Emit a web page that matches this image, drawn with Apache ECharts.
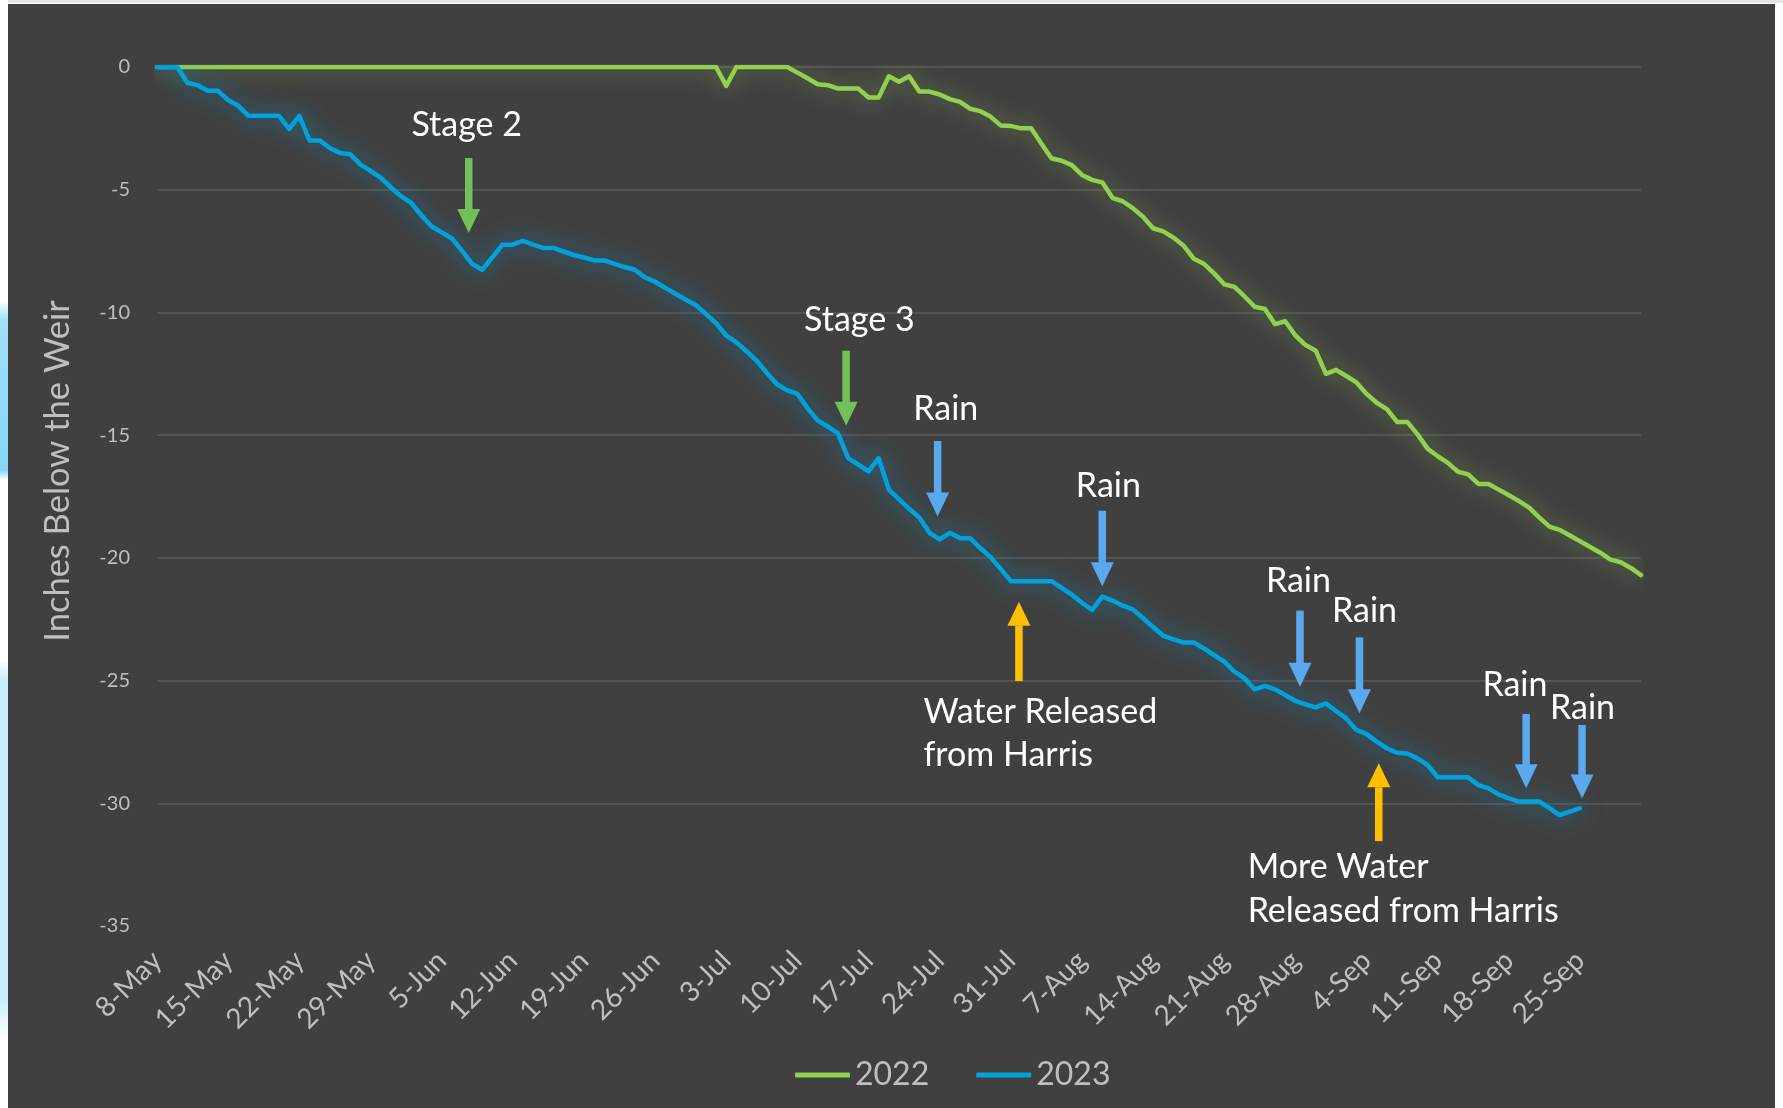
<!DOCTYPE html>
<html>
<head>
<meta charset="utf-8">
<script src="https://cdn.jsdelivr.net/npm/echarts@6/dist/echarts.min.js"></script>
<style>
  html, body { margin: 0; padding: 0; width: 1783px; height: 1108px; overflow: hidden; background: #ffffff; }
  #topline { position: absolute; left: 0; top: 0; width: 1783px; height: 3px; background: #e4e4e4; }
  #leftdeco { position: absolute; left: 0; top: 0; width: 8px; height: 1108px;
    background: linear-gradient(to bottom, #ffffff 0px, #ffffff 300px, #9fe0fa 320px, #86d6f8 470px, #ffffff 480px, #ffffff 660px, #c9effc 680px, #c9effc 1000px, #ffffff 1040px); }
  #chart { position: absolute; left: 8px; top: 4px; width: 1767px; height: 1104px; }
</style>
</head>
<body>
<div id="topline"></div>
<div id="leftdeco"></div>
<div id="chart"></div>
<script>
// ---- categories (daily, 8-May .. 1-Oct) ----
const dates = [
 '8-May','9-May','10-May','11-May','12-May','13-May','14-May','15-May','16-May','17-May','18-May','19-May','20-May','21-May','22-May','23-May','24-May','25-May','26-May','27-May','28-May','29-May','30-May','31-May',
 '1-Jun','2-Jun','3-Jun','4-Jun','5-Jun','6-Jun','7-Jun','8-Jun','9-Jun','10-Jun','11-Jun','12-Jun','13-Jun','14-Jun','15-Jun','16-Jun','17-Jun','18-Jun','19-Jun','20-Jun','21-Jun','22-Jun','23-Jun','24-Jun','25-Jun','26-Jun','27-Jun','28-Jun','29-Jun','30-Jun',
 '1-Jul','2-Jul','3-Jul','4-Jul','5-Jul','6-Jul','7-Jul','8-Jul','9-Jul','10-Jul','11-Jul','12-Jul','13-Jul','14-Jul','15-Jul','16-Jul','17-Jul','18-Jul','19-Jul','20-Jul','21-Jul','22-Jul','23-Jul','24-Jul','25-Jul','26-Jul','27-Jul','28-Jul','29-Jul','30-Jul','31-Jul',
 '1-Aug','2-Aug','3-Aug','4-Aug','5-Aug','6-Aug','7-Aug','8-Aug','9-Aug','10-Aug','11-Aug','12-Aug','13-Aug','14-Aug','15-Aug','16-Aug','17-Aug','18-Aug','19-Aug','20-Aug','21-Aug','22-Aug','23-Aug','24-Aug','25-Aug','26-Aug','27-Aug','28-Aug','29-Aug','30-Aug','31-Aug',
 '1-Sep','2-Sep','3-Sep','4-Sep','5-Sep','6-Sep','7-Sep','8-Sep','9-Sep','10-Sep','11-Sep','12-Sep','13-Sep','14-Sep','15-Sep','16-Sep','17-Sep','18-Sep','19-Sep','20-Sep','21-Sep','22-Sep','23-Sep','24-Sep','25-Sep','26-Sep','27-Sep','28-Sep','29-Sep','30-Sep',
 '1-Oct'
];

// ---- series values (inches below the weir) ----
const level2022 = [
 0,0,0,0,0,0,0,0,0,0, 0,0,0,0,0,0,0,0,0,0,
 0,0,0,0,0,0,0,0,0,0, 0,0,0,0,0,0,0,0,0,0,
 0,0,0,0,0,0,0,0,0,0, 0,0,0,0,0,0,
 -0.77, 0,0,0,0,0,0,
 -0.23,-0.46,-0.7,-0.74,-0.88,-0.88,-0.88,-1.24,-1.24,-0.38,
 -0.6,-0.38,-1.0,-1.0,-1.12,-1.31,-1.42,-1.7,-1.8,-2.02,
 -2.38,-2.4,-2.5,-2.5,-3.12,-3.72,-3.82,-4.0,-4.4,-4.6,
 -4.7,-5.33,-5.47,-5.75,-6.1,-6.57,-6.7,-6.95,-7.28,-7.81,
 -8.02,-8.41,-8.85,-8.96,-9.35,-9.77,-9.86,-10.48,-10.36,-10.94,
 -11.33,-11.56,-12.5,-12.34,-12.59,-12.85,-13.32,-13.68,-13.94,-14.46,
 -14.46,-14.96,-15.55,-15.86,-16.13,-16.49,-16.6,-16.99,-16.99,-17.22,
 -17.45,-17.69,-17.95,-18.36,-18.73,-18.86,-19.09,-19.32,-19.56,-19.79,
 -20.07,-20.18,-20.41,-20.7
];
const level2023 = [
 0,0,0,-0.65,-0.74,-0.97,-0.97,-1.35,-1.58,-1.99,
 -1.99,-1.99,-1.99,-2.52,-1.99,-2.99,-2.99,-3.3,-3.5,-3.55,
 -3.97,-4.23,-4.51,-4.9,-5.26,-5.53,-6.04,-6.49,-6.74,-6.98,
 -7.48,-8.02,-8.26,-7.75,-7.24,-7.24,-7.08,-7.24,-7.37,-7.37,
 -7.52,-7.66,-7.76,-7.88,-7.88,-8.02,-8.15,-8.26,-8.57,-8.75,
 -9.0,-9.24,-9.47,-9.7,-10.06,-10.44,-10.94,-11.22,-11.58,-11.97,
 -12.47,-12.93,-13.17,-13.32,-13.9,-14.41,-14.65,-14.93,-15.94,-16.2,
 -16.48,-15.94,-17.22,-17.61,-18.0,-18.36,-18.98,-19.25,-18.98,-19.2,
 -19.2,-19.6,-19.97,-20.45,-20.95,-20.95,-20.95,-20.95,-20.95,-21.22,
 -21.5,-21.83,-22.12,-21.58,-21.74,-21.95,-22.1,-22.45,-22.82,-23.17,
 -23.32,-23.45,-23.45,-23.69,-23.96,-24.23,-24.64,-24.91,-25.36,-25.22,
 -25.36,-25.59,-25.83,-25.97,-26.09,-25.93,-26.24,-26.54,-27.01,-27.18,
 -27.49,-27.76,-27.94,-27.97,-28.17,-28.44,-28.94,-28.94,-28.94,-28.94,
 -29.26,-29.39,-29.64,-29.8,-29.93,-29.93,-29.93,-30.2,-30.48,-30.34,
 -30.2
];
const seriesNames = ['2022', '2023'];
const yMin = -35, yMax = 0, yStep = 5;
const yTitle = 'Inches Below the Weir';

// ---- annotations (anchored in data space: day index, inches) ----
const arrowNotes = [
  { kind: 'stage', day: 30.67, from: -3.71, to: -6.76 },
  { kind: 'stage', day: 67.8,  from: -11.56, to: -14.62 },
  { kind: 'rain',  day: 76.8,  from: -15.24, to: -18.31 },
  { kind: 'rain',  day: 93.0,  from: -18.08, to: -21.16 },
  { kind: 'rain',  day: 112.45, from: -22.15, to: -25.25 },
  { kind: 'rain',  day: 118.3, from: -23.24, to: -26.33 },
  { kind: 'rain',  day: 134.7, from: -26.36, to: -29.39 },
  { kind: 'rain',  day: 140.2, from: -26.81, to: -29.8 },
  { kind: 'release', day: 84.8, from: -24.98, to: -21.79 },
  { kind: 'release', day: 120.2, from: -31.5, to: -28.37 }
];
const textNotes = [
  { text: 'Stage 2', day: 30.47, at: -2.36, align: 'center' },
  { text: 'Stage 3', day: 69.1, at: -10.31, align: 'center' },
  { text: 'Rain', day: 77.6, at: -13.93, align: 'center' },
  { text: 'Rain', day: 93.6, at: -17.07, align: 'center' },
  { text: 'Rain', day: 112.3, at: -20.94, align: 'center' },
  { text: 'Rain', day: 118.8, at: -22.17, align: 'center' },
  { text: 'Rain', day: 133.6, at: -25.18, align: 'center' },
  { text: 'Rain', day: 140.25, at: -26.1, align: 'center' },
  { text: 'Water Released', day: 75.4, at: -26.28, align: 'left' },
  { text: 'from Harris', day: 75.4, at: -28.03, align: 'left' },
  { text: 'More Water', day: 107.3, at: -32.6, align: 'left' },
  { text: 'Released from Harris', day: 107.3, at: -34.39, align: 'left' }
];

const FONT = 'Lato, "Open Sans", sans-serif';
const arrowColors = { stage: '#72c058', rain: '#5aa9ee', release: '#ffc000' };

const chart = echarts.init(document.getElementById('chart'), null, { renderer: 'canvas' });

chart.setOption({
  animation: false,
  backgroundColor: '#404040',
  grid: { left: 149, right: 134, top: 63, bottom: 182, containLabel: false },
  legend: {
    data: seriesNames,
    left: 782, top: 1050,
    icon: 'roundRect',
    itemWidth: 55, itemHeight: 5, itemGap: 47,
    textStyle: { color: '#bfbfbf', fontSize: 32, fontFamily: FONT }
  },
  xAxis: {
    type: 'category',
    data: dates,
    boundaryGap: false,
    axisLine: { show: false },
    axisTick: { show: false },
    splitLine: { show: false },
    axisLabel: {
      interval: 6, rotate: 45, margin: 30,
      padding: [22, 0, 0, 0],
      color: '#bfbfbf', fontSize: 28, fontFamily: FONT
    }
  },
  yAxis: {
    type: 'value',
    min: yMin, max: yMax, interval: yStep,
    axisLine: { show: false },
    axisTick: { show: false },
    axisLabel: { color: '#bfbfbf', fontSize: 20, fontFamily: FONT, margin: 27 },
    splitLine: { show: true, showMinLine: false, lineStyle: { color: '#5a5a5a', width: 1.5 } }
  },
  series: [
    {
      name: seriesNames[0], type: 'line', data: level2022,
      showSymbol: false, symbol: 'none', smooth: false,
      itemStyle: { color: '#92d050' },
      lineStyle: { color: '#92d050', width: 4.5, cap: 'round', join: 'round',
        shadowBlur: 22, shadowColor: 'rgba(146,208,80,0.6)' },
      z: 2
    },
    {
      name: seriesNames[1], type: 'line', data: level2023,
      showSymbol: false, symbol: 'none', smooth: false,
      itemStyle: { color: '#00a2de' },
      lineStyle: { color: '#00a2de', width: 4.5, cap: 'round', join: 'round',
        shadowBlur: 22, shadowColor: 'rgba(0,162,222,0.75)' },
      z: 3
    }
  ]
});

// map fractional day index and inches to pixels via the chart's own scales
function px(day, val) {
  const x0 = chart.convertToPixel({ xAxisIndex: 0 }, dates[0]);
  const xN = chart.convertToPixel({ xAxisIndex: 0 }, dates[dates.length - 1]);
  const x = x0 + (xN - x0) * day / (dates.length - 1);
  const y = chart.convertToPixel({ yAxisIndex: 0 }, val);
  return [x, y];
}

const graphics = [];
const STEM = 7.5, HEAD_W = 23, HEAD_L = 24;
arrowNotes.forEach(a => {
  const p1 = px(a.day, a.from), p2 = px(a.day, a.to);
  const x = p1[0];
  const dir = p2[1] > p1[1] ? 1 : -1;      // 1 = pointing down
  const baseY = p2[1] - dir * HEAD_L;
  const color = arrowColors[a.kind];
  const yTop = Math.min(p1[1], baseY), yBot = Math.max(p1[1], baseY);
  graphics.push({
    type: 'rect', z: 10,
    shape: { x: x - STEM / 2, y: yTop, width: STEM, height: yBot - yTop + 1 },
    style: { fill: color }
  });
  graphics.push({
    type: 'polygon', z: 10,
    shape: { points: [[x - HEAD_W / 2, baseY], [x + HEAD_W / 2, baseY], [x, p2[1]]] },
    style: { fill: color }
  });
});
textNotes.forEach(t => {
  const p = px(t.day, t.at);
  graphics.push({
    type: 'text', z: 11, x: p[0], y: p[1],
    style: { text: t.text, fill: '#ffffff', font: '34px ' + FONT, align: t.align, verticalAlign: 'middle' }
  });
});
// vertical axis title
graphics.push({
  type: 'text', z: 11, x: 50, y: 467, rotation: Math.PI / 2,
  style: { text: yTitle, fill: '#bfbfbf', font: '34.5px ' + FONT, align: 'center', verticalAlign: 'middle' }
});

chart.setOption({ graphic: graphics });
</script>
</body>
</html>
